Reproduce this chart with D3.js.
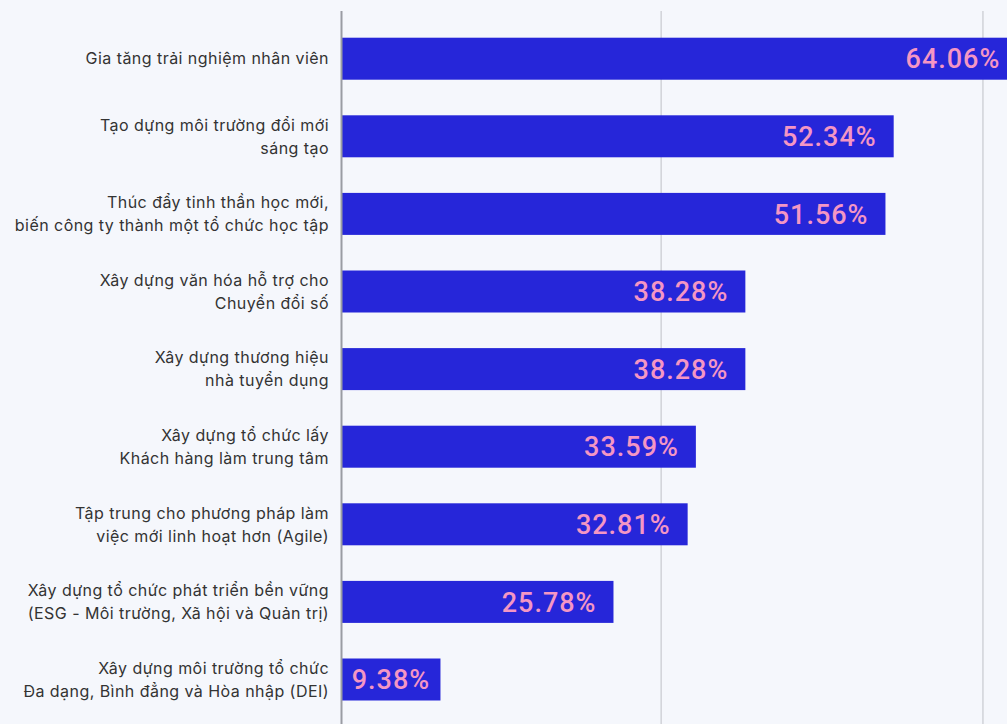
<!DOCTYPE html>
<html><head><meta charset="utf-8">
<script src="https://cdn.jsdelivr.net/npm/d3@7"></script>
<style>
html,body{margin:0;padding:0;background:#f5f7fc;overflow:hidden;}
</style></head>
<body><svg id="c" width="1007" height="724"></svg>
<script>
const categories = [
  ["Gia tăng trải nghiệm nhân viên"],
  ["Tạo dựng môi trường đổi mới", "sáng tạo"],
  ["Thúc đẩy tinh thần học mới,", "biến công ty thành một tổ chức học tập"],
  ["Xây dựng văn hóa hỗ trợ cho", "Chuyển đổi số"],
  ["Xây dựng thương hiệu", "nhà tuyển dụng"],
  ["Xây dựng tổ chức lấy", "Khách hàng làm trung tâm"],
  ["Tập trung cho phương pháp làm", "việc mới linh hoạt hơn (Agile)"],
  ["Xây dựng tổ chức phát triển bền vững", "(ESG - Môi trường, Xã hội và Quản trị)"],
  ["Xây dựng môi trường tổ chức", "Đa dạng, Bình đẳng và Hòa nhập (DEI)"]
];
const values = [64.06, 52.34, 51.56, 38.28, 38.28, 33.59, 32.81, 25.78, 9.38];
const gridValues = [30.3, 60.8];

const svg = d3.select("#c");
const W = 1007, H = 724;
svg.append("rect").attr("width", W).attr("height", H).attr("fill", "#f5f7fc");

const x = d3.scaleLinear().domain([0, 60]).range([341.5, 341.5 + 633]);
const ids = d3.range(categories.length);
const y = d3.scaleBand().domain(ids).range([19.9, 718.3]).paddingInner(0.4588).paddingOuter(0.2294);

// gridlines
svg.selectAll("line.grid").data(gridValues).join("line")
  .attr("class", "grid")
  .attr("x1", d => x(d)).attr("x2", d => x(d))
  .attr("y1", 11).attr("y2", H)
  .attr("stroke", "#d0d2d8").attr("stroke-width", 1.5);

// bars
svg.selectAll("rect.bar").data(values).join("rect")
  .attr("class", "bar")
  .attr("x", x(0))
  .attr("y", (d, i) => y(i))
  .attr("width", d => x(d) - x(0))
  .attr("height", y.bandwidth())
  .attr("fill", "#2626d9");

// axis line
svg.append("line")
  .attr("x1", x(0)).attr("x2", x(0))
  .attr("y1", 11).attr("y2", H)
  .attr("stroke", "#9a9ca3").attr("stroke-width", 2);

// value labels
const vl = svg.selectAll("text.val").data(values).join("text")
  .attr("class", "val")
  .attr("y", (d, i) => y(i) + y.bandwidth() / 2)
  .attr("dy", "0.36em")
  .attr("font-family", "Roboto, sans-serif")
  .attr("font-weight", 500)
  .attr("font-size", 27)
  .attr("letter-spacing", 1)
  .attr("fill", "#f496c4")
  .text(d => d.toFixed(2) + "%");
vl.each(function(d) {
  const w = this.getComputedTextLength();
  const bw = x(d) - x(0);
  const t = d3.select(this);
  if (bw < w + 34) {
    t.attr("x", x(0) + bw / 2).attr("text-anchor", "middle");
  } else {
    t.attr("x", x(d) - 17).attr("text-anchor", "end");
  }
});

// category labels
const cl = svg.selectAll("text.cat").data(categories).join("text")
  .attr("class", "cat")
  .attr("x", 329)
  .attr("text-anchor", "end")
  .attr("font-family", "Inter, sans-serif")
  .attr("font-size", 16)
  .attr("letter-spacing", 0.45)
  .attr("fill", "#333")
  .each(function(lines, i) {
    const cy = y(i) + y.bandwidth() / 2;
    const lh = 23;
    const t = d3.select(this);
    lines.forEach((ln, k) => {
      t.append("tspan")
        .attr("x", 329)
        .attr("y", cy + (k - (lines.length - 1) / 2) * lh)
        .attr("dy", "0.36em")
        .text(ln);
    });
  });
</script></body></html>
